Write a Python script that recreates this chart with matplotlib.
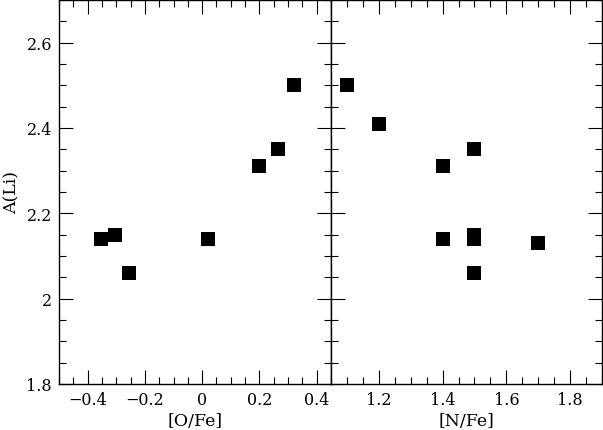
import numpy as np
import matplotlib
matplotlib.use("Agg")
import matplotlib.pyplot as plt
from matplotlib.ticker import MultipleLocator, FuncFormatter

# data
o_fe = [-0.353, -0.304, -0.257, 0.02, 0.20, 0.265, 0.32]
li_o = [2.14, 2.15, 2.06, 2.14, 2.31, 2.35, 2.50]

n_fe = [1.10, 1.20, 1.40, 1.50, 1.40, 1.50, 1.50, 1.50, 1.70]
li_n = [2.50, 2.41, 2.31, 2.35, 2.14, 2.15, 2.14, 2.06, 2.13]

plt.rcParams['font.family'] = ['DejaVu Serif']
plt.rcParams['font.size'] = 11.5

fig = plt.figure(figsize=(6.03, 4.31), dpi=100)
ax1 = fig.add_axes([59/603, 46/431, 272/603, 384/431])
ax2 = fig.add_axes([331/603, 46/431, 271/603, 384/431])

fmt = FuncFormatter(lambda v, p: ('%g' % round(v, 3)).replace('-', '\u2212'))

for ax in (ax1, ax2):
    ax.set_ylim(1.8, 2.7)
    ax.yaxis.set_major_locator(MultipleLocator(0.2))
    ax.yaxis.set_minor_locator(MultipleLocator(0.05))
    ax.xaxis.set_major_locator(MultipleLocator(0.2))
    ax.xaxis.set_minor_locator(MultipleLocator(0.05))
    ax.tick_params(which='both', direction='in', top=True, right=True, color='black', width=0.8)
    ax.tick_params(which='major', length=10, labelsize=11.5, pad=5)
    ax.tick_params(which='minor', length=5)
    ax.xaxis.set_major_formatter(fmt)
    ax.yaxis.set_major_formatter(fmt)
    for s in ax.spines.values():
        s.set_linewidth(1.0)

ax1.scatter(o_fe, li_o, marker='s', s=88, color='black', linewidths=0)
ax1.set_xlim(-0.5, 0.45)
ax1.set_xlabel('[O/Fe]', fontsize=12.5, labelpad=3)
ax1.set_ylabel('A(Li)', fontsize=12.5, labelpad=4)

ax2.scatter(n_fe, li_n, marker='s', s=88, color='black', linewidths=0)
ax2.set_xlim(1.05, 1.9)
ax2.set_xlabel('[N/Fe]', fontsize=12.5, labelpad=3)
ax2.tick_params(axis='y', labelleft=False)

fig.savefig('out.png', dpi=100)
